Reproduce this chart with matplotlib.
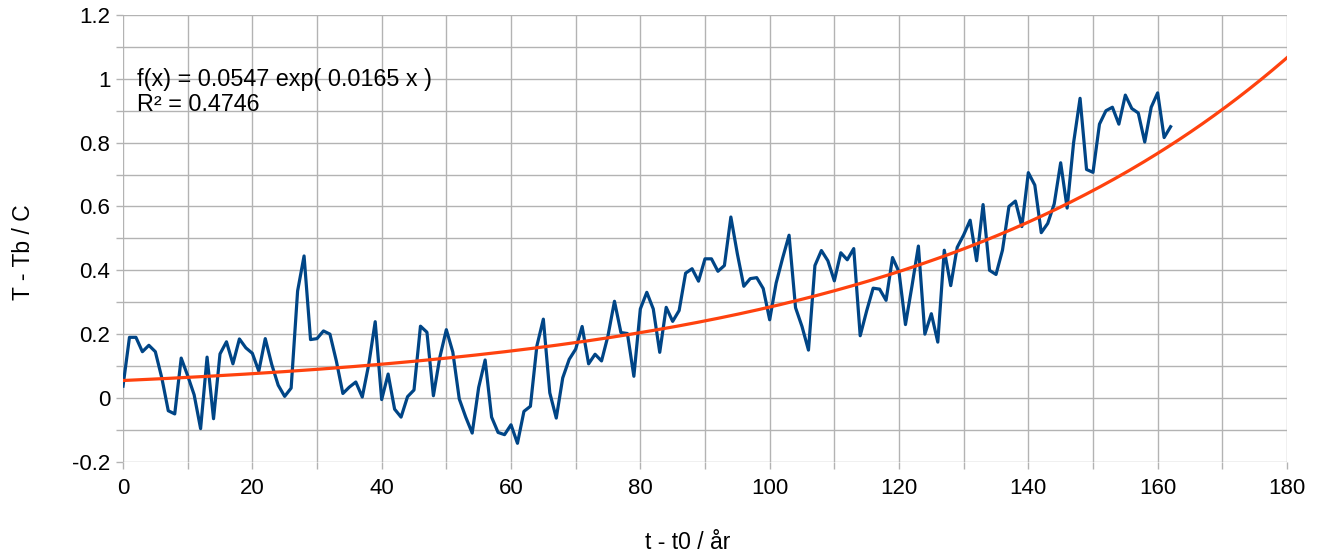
import numpy as np
import matplotlib
matplotlib.use("Agg")
import matplotlib.pyplot as plt

# Measured temperature anomaly (T - Tb) versus years since t0
years = list(range(0, 163))
anomaly = [
    0.037, 0.19, 0.19, 0.145, 0.165, 0.145, 0.063, -0.04, -0.05, 0.125,
    0.07, 0.01, -0.096, 0.128, -0.065, 0.138, 0.176, 0.107, 0.185, 0.157,
    0.14, 0.084, 0.186, 0.105, 0.04, 0.005, 0.031, 0.335, 0.445, 0.183,
    0.186, 0.21, 0.2, 0.115, 0.014, 0.034, 0.05, 0.003, 0.105, 0.239,
    -0.005, 0.075, -0.035, -0.06, 0.004, 0.025, 0.225, 0.206, 0.007, 0.128,
    0.214, 0.144, -0.003, -0.06, -0.11, 0.033, 0.119, -0.06, -0.108, -0.115,
    -0.084, -0.142, -0.042, -0.026, 0.163, 0.247, 0.016, -0.063, 0.063, 0.121,
    0.153, 0.224, 0.107, 0.137, 0.116, 0.195, 0.303, 0.205, 0.202, 0.068,
    0.279, 0.331, 0.279, 0.143, 0.284, 0.24, 0.274, 0.391, 0.405, 0.366,
    0.436, 0.436, 0.397, 0.415, 0.567, 0.452, 0.35, 0.374, 0.377, 0.343,
    0.245, 0.36, 0.438, 0.51, 0.283, 0.224, 0.15, 0.415, 0.462, 0.43,
    0.367, 0.455, 0.433, 0.468, 0.195, 0.273, 0.344, 0.341, 0.306, 0.44,
    0.395, 0.23, 0.35, 0.476, 0.2, 0.264, 0.175, 0.463, 0.352, 0.472,
    0.511, 0.557, 0.43, 0.606, 0.4, 0.387, 0.463, 0.6, 0.617, 0.537,
    0.706, 0.667, 0.518, 0.547, 0.608, 0.737, 0.595, 0.8, 0.939, 0.716,
    0.707, 0.858, 0.9, 0.911, 0.858, 0.949, 0.907, 0.893, 0.802, 0.911,
    0.956, 0.816, 0.85,
]

# Exponential trendline parameters (from the chart's equation)
fit_a = 0.0547
fit_b = 0.0165
fit_r2 = 0.4746

xticks = [0, 20, 40, 60, 80, 100, 120, 140, 160, 180]
yticks = [-0.2, 0, 0.2, 0.4, 0.6, 0.8, 1, 1.2]
ytick_labels = ["-0.2", "0", "0.2", "0.4", "0.6", "0.8", "1", "1.2"]

plt.rcParams['font.family'] = ['Liberation Sans', 'DejaVu Sans']

fig = plt.figure(figsize=(13.18, 5.53), dpi=100)
ax = fig.add_axes([123/1318, 1 - 461.8/553, (1287 - 123)/1318, (461.8 - 15)/553])

grid_col = "#b3b3b3"
ax.set_xlim(0, 180)
ax.set_ylim(-0.2, 1.2)
xt = list(range(0, 181, 10))
ax.set_xticks(xt)
ax.set_xticklabels([str(v) if v in xticks else "" for v in xt])
yt = np.round(np.arange(-0.2, 1.201, 0.1), 1)
ax.set_yticks(yt)
lab = []
for v in yt:
    match = [l for t, l in zip(yticks, ytick_labels) if abs(t - v) < 1e-6]
    lab.append(match[0] if match else "")
ax.set_yticklabels(lab)
ax.grid(True, color=grid_col, linewidth=1.0)
ax.set_axisbelow(True)
for s in ax.spines.values():
    s.set_visible(False)
ax.tick_params(axis='both', colors=grid_col, length=5, width=1.0,
               labelcolor="black", labelsize=16)
ax.tick_params(axis='y', pad=4)
ax.tick_params(axis='x', pad=7)

ax.plot(years, anomaly, color="#004586", linewidth=2.3, zorder=3)
xf = np.linspace(0, 180, 400)
ax.plot(xf, fit_a * np.exp(fit_b * xf), color="#ff420e", linewidth=2.3, zorder=4)

ax.text(2.15, 0.997, f"f(x) = {fit_a} exp( {fit_b} x )",
        fontsize=16.8, va="center", ha="left")
ax.text(2.15, 0.918, f"R² = {fit_r2}",
        fontsize=16.8, va="center", ha="left")

fig.text(24/1318, 1 - 252/553, "T - Tb / C", rotation=90, fontsize=16.5,
         ha="center", va="center")
fig.text(688/1318, 1 - 549/553, "t - t0 / år", fontsize=16.5,
         ha="center", va="baseline")

fig.savefig("out.png", dpi=100)
